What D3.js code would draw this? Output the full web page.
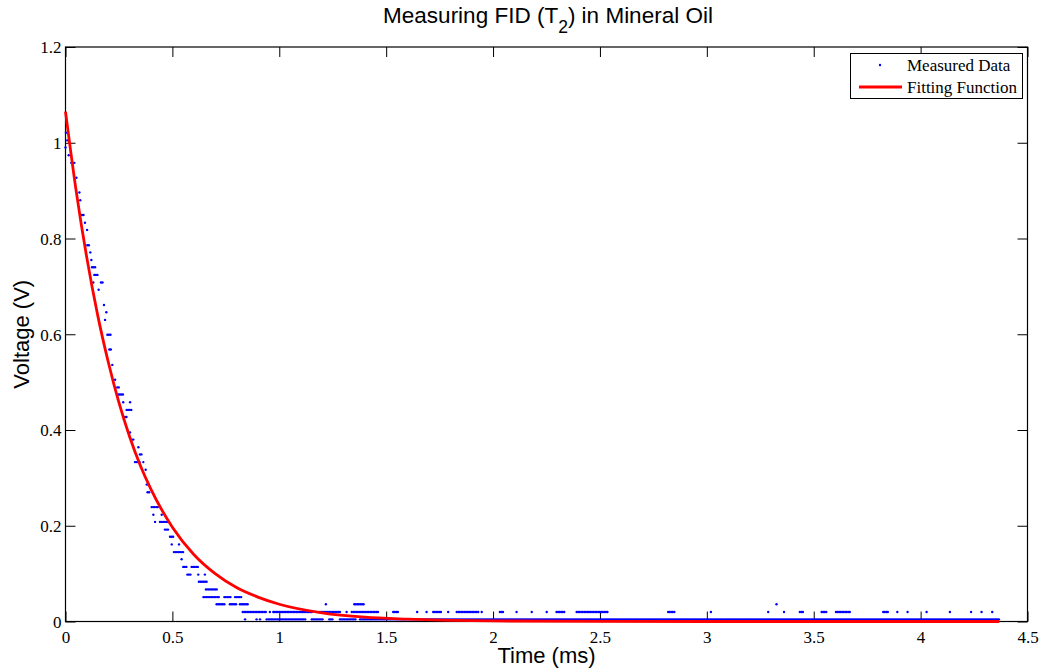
<!DOCTYPE html>
<html>
<head>
<meta charset="utf-8">
<script src="https://cdn.jsdelivr.net/npm/d3@7"></script>
<style>
    body { margin: 0; background: #fff; }
    .tick-label { font-family: "Liberation Serif", "Times New Roman", serif; font-size: 17px; }
    .axis__label { font-family: "Liberation Sans", Arial, sans-serif; font-size: 22px; }
    .chart__title { font-family: "Liberation Sans", Arial, sans-serif; font-size: 22.5px; }
    .legend text { font-family: "Liberation Serif", "Times New Roman", serif; font-size: 17px; }
</style>
</head>
<body>
<svg class="chart" width="1044" height="672"></svg>
<script>
// ticks
const xTicks = [0, 0.5, 1, 1.5, 2, 2.5, 3, 3.5, 4, 4.5];
const yTicks = [0, 0.2, 0.4, 0.6, 0.8, 1, 1.2];

// measured data, read as runs of scope samples: start (ms), end (ms), voltage (V)
const runStart = [
    0.002, 0.008, 0.000, 0.015, 0.027, 0.051, 0.065, 0.069, 0.077, 0.091,
    0.101, 0.102, 0.116, 0.121, 0.124, 0.135, 0.130, 0.166, 0.155, 0.180,
    0.191, 0.185, 0.196, 0.205, 0.219, 0.232, 0.242, 0.247, 0.270, 0.302,
    0.286, 0.278, 0.302, 0.310, 0.341, 0.348, 0.325, 0.364, 0.375, 0.380,
    0.384, 0.403, 0.411, 0.450, 0.419, 0.442, 0.465, 0.489, 0.497, 0.531,
    0.507, 0.543, 0.551, 0.590, 0.570, 0.621, 0.652, 0.624, 0.657, 0.645,
    0.743, 0.793, 0.707, 0.769, 0.816, 1.218, 1.351, 3.326,
    0.829, 0.956, 0.972, 1.190, 1.315, 1.339, 1.533, 1.645, 1.689, 1.720,
    1.790, 1.830, 1.947, 2.032, 2.110, 2.181, 2.251, 2.297, 2.391, 2.819,
    3.019, 3.287, 3.361, 3.435, 3.537, 3.604, 3.825, 3.891, 3.939, 4.028,
    4.137, 4.236, 4.285, 4.335,
    0.840, 0.894, 0.910, 0.941, 1.152, 1.234, 1.284, 1.378
];
const runEnd = [
    0.002, 0.008, 0.000, 0.015, 0.043, 0.051, 0.065, 0.069, 0.087, 0.091,
    0.101, 0.111, 0.116, 0.121, 0.139, 0.151, 0.130, 0.175, 0.161, 0.180,
    0.191, 0.185, 0.211, 0.214, 0.219, 0.232, 0.255, 0.275, 0.270, 0.302,
    0.310, 0.291, 0.302, 0.322, 0.341, 0.356, 0.348, 0.364, 0.375, 0.392,
    0.395, 0.434, 0.411, 0.450, 0.419, 0.481, 0.486, 0.507, 0.497, 0.531,
    0.551, 0.543, 0.570, 0.621, 0.590, 0.621, 0.652, 0.660, 0.710, 0.723,
    0.777, 0.824, 0.746, 0.801, 0.855, 1.218, 1.401, 3.326,
    0.941, 0.956, 1.159, 1.284, 1.315, 1.463, 1.557, 1.645, 1.689, 1.760,
    1.790, 1.931, 1.947, 2.051, 2.110, 2.181, 2.251, 2.336, 2.539, 2.851,
    3.019, 3.287, 3.361, 3.451, 3.560, 3.673, 3.853, 3.891, 3.939, 4.028,
    4.137, 4.236, 4.285, 4.335,
    0.840, 0.894, 0.910, 1.128, 1.206, 1.253, 1.362, 4.368
];
const runVoltage = [
    1.021, 1.005, 0.990, 0.974, 0.958, 0.927, 0.896, 0.880, 0.849, 0.833,
    0.818, 0.786, 0.771, 0.755, 0.740, 0.724, 0.708, 0.708, 0.693, 0.661,
    0.646, 0.630, 0.599, 0.568, 0.536, 0.505, 0.489, 0.474, 0.458, 0.458,
    0.442, 0.427, 0.395, 0.380, 0.364, 0.349, 0.333, 0.333, 0.317, 0.286,
    0.270, 0.239, 0.223, 0.223, 0.208, 0.208, 0.192, 0.177, 0.161, 0.161,
    0.145, 0.130, 0.114, 0.114, 0.098, 0.098, 0.098, 0.083, 0.067, 0.051,
    0.051, 0.051, 0.036, 0.036, 0.036, 0.036, 0.036, 0.036,
    0.020, 0.020, 0.020, 0.020, 0.020, 0.020, 0.020, 0.020, 0.020, 0.020,
    0.020, 0.020, 0.020, 0.020, 0.020, 0.020, 0.020, 0.020, 0.020, 0.020,
    0.020, 0.020, 0.020, 0.020, 0.020, 0.020, 0.020, 0.020, 0.020, 0.020,
    0.020, 0.020, 0.020, 0.020,
    0.0045, 0.0045, 0.0045, 0.0045, 0.0045, 0.0045, 0.0045, 0.0045
];
const sampleStep = 0.0072; // ms between scope samples

// fitted curve
const fitTime = [0, 0.05, 0.1, 0.15, 0.2, 0.25, 0.3, 0.35, 0.4, 0.5, 0.6, 0.7, 0.8, 0.9, 1.0, 1.2, 1.4, 1.6, 1.8, 2.0, 2.5, 3.0, 3.5, 4.0, 4.368];
const fitVoltage = [1.065, 0.899, 0.759, 0.641, 0.542, 0.457, 0.386, 0.326, 0.276, 0.197, 0.140, 0.100, 0.071, 0.051, 0.036, 0.018, 0.009, 0.005, 0.0024, 0.0012, 0.0002, 0, 0, 0, 0];

const sizes = {width: 1044, height: 672, left: 65.5, right: 1027.5, top: 47, bottom: 621.5, tick: 10};

function expandRuns() {
    let points = [];
    runStart.forEach((start, idx) => {
        for (let t = start; t <= runEnd[idx] + 1e-9; t += sampleStep) {
            points.push({t: t, v: runVoltage[idx]});
        }
    });
    return points;
}

function drawChart() {
    const {left, right, top, bottom, tick} = sizes;
    const svg = d3.select('.chart');

    let xScale = d3.scaleLinear().domain([0, 4.5]).range([left, right]);
    let yScale = d3.scaleLinear().domain([0, 1.2]).range([bottom, top]);

    //axes: box + inward ticks on all four sides
    const axisG = svg.append('g').classed('axis', true);
    axisG.append('rect')
        .attr('x', left).attr('y', top)
        .attr('width', right - left).attr('height', bottom - top)
        .attr('fill', 'none').attr('stroke', '#000').attr('stroke-width', 1.2);

    let xAxisBottom = d3.axisBottom(xScale).tickValues(xTicks).tickSize(-tick).tickFormat(d3.format('~g'));
    let xAxisTop = d3.axisTop(xScale).tickValues(xTicks).tickSize(-tick).tickFormat('');
    let yAxisLeft = d3.axisLeft(yScale).tickValues(yTicks).tickSize(-tick).tickFormat(d3.format('~g'));
    let yAxisRight = d3.axisRight(yScale).tickValues(yTicks).tickSize(-tick).tickFormat('');

    axisG.append('g').attr('transform', `translate(0, ${bottom})`).call(xAxisBottom)
        .selectAll('text').classed('tick-label', true).attr('y', 9).attr('dy', '0.71em');
    axisG.append('g').attr('transform', `translate(0, ${top})`).call(xAxisTop);
    axisG.append('g').attr('transform', `translate(${left}, 0)`).call(yAxisLeft)
        .selectAll('text').classed('tick-label', true).attr('x', -4).attr('dy', '0.34em');
    axisG.append('g').attr('transform', `translate(${right}, 0)`).call(yAxisRight);

    axisG.selectAll('.domain').remove();
    axisG.selectAll('.tick line').attr('stroke', '#000').attr('stroke-width', 1);
    axisG.selectAll('.tick text').attr('fill', '#000').attr('font-size', null).attr('font-family', null);

    //measured dots
    svg.append('g')
        .selectAll('circle')
        .data(expandRuns())
        .enter()
        .append('circle')
            .attr('cx', d => xScale(d.t))
            .attr('cy', d => yScale(d.v))
            .attr('r', 1.2)
            .attr('fill', '#0000ff');

    //fitting function
    const fitData = fitTime.map((t, idx) => ({t: t, v: fitVoltage[idx]}));
    svg.append('path')
        .datum(fitData)
        .attr('d', d3.line().x(d => xScale(d.t)).y(d => yScale(d.v)).curve(d3.curveMonotoneX))
        .attr('fill', 'none')
        .attr('stroke', '#ff0000')
        .attr('stroke-width', 2.8);

    //labels
    const title = svg.append('text')
        .classed('chart__title', true)
        .attr('x', 548)
        .attr('y', 23)
        .attr('text-anchor', 'middle');
    title.append('tspan').text('Measuring FID (T');
    title.append('tspan').text('2').attr('font-size', '17.5px').attr('dy', 10);
    title.append('tspan').text(') in Mineral Oil').attr('dy', -10);

    svg.append('text')
        .classed('axis__label', true)
        .attr('x', (left + right) / 2)
        .attr('y', 663)
        .attr('text-anchor', 'middle')
        .text('Time (ms)');

    svg.append('text')
        .classed('axis__label', true)
        .attr('transform', `translate(29, ${(top + bottom) / 2}) rotate(-90)`)
        .attr('text-anchor', 'middle')
        .text('Voltage (V)');

    //legend
    const legend = svg.append('g').classed('legend', true);
    legend.append('rect')
        .attr('x', 850.5).attr('y', 53.5).attr('width', 172).attr('height', 45)
        .attr('fill', '#fff').attr('stroke', '#000').attr('stroke-width', 1);
    legend.append('circle')
        .attr('cx', 880).attr('cy', 65).attr('r', 1.2).attr('fill', '#0000ff');
    legend.append('line')
        .attr('x1', 859).attr('x2', 902).attr('y1', 87).attr('y2', 87)
        .attr('stroke', '#ff0000').attr('stroke-width', 2.8);
    legend.append('text').attr('x', 907).attr('y', 71).text('Measured Data');
    legend.append('text').attr('x', 907).attr('y', 93).text('Fitting Function');
}

drawChart();
</script>
</body>
</html>
